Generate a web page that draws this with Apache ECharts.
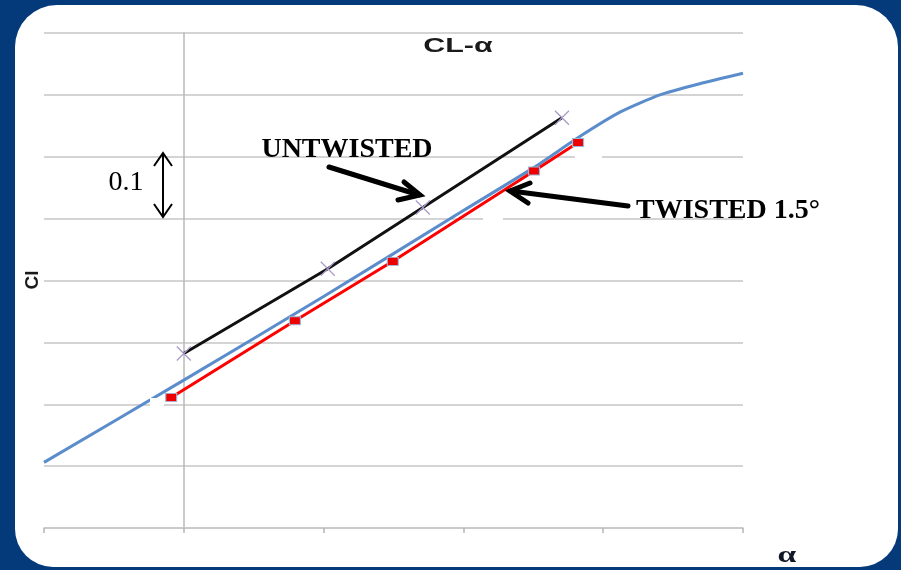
<!DOCTYPE html>
<html>
<head>
<meta charset="utf-8">
<script src="https://cdn.jsdelivr.net/npm/echarts@6/dist/echarts.min.js"></script>
<style>
html,body{margin:0;padding:0;background:#043a7a;}
#chart{width:901px;height:570px;}
</style>
</head>
<body>
<div id="chart"></div>
<script>
// ---- data ----
const xTicks = [-2, 0, 2, 4, 6, 8];
const yTicks = [0, 0.1, 0.2, 0.3, 0.4, 0.5, 0.6, 0.7, 0.8];
const alphaCurve = [-2, 0, 2, 4, 5, 5.67, 6.24, 6.81, 7.38, 8];
const clCurve = [0.106, 0.239, 0.374, 0.513, 0.582, 0.633, 0.672, 0.700, 0.718, 0.735];
const alphaUntwisted = [0, 2.06, 3.42, 5.41];
const clUntwisted = [0.282, 0.419, 0.518, 0.663];
const alphaTwisted = [-0.18, 1.59, 2.99, 5.01, 5.64];
const clTwisted = [0.211, 0.335, 0.431, 0.577, 0.623];
const titleText = 'CL-\u03b1';
const yName = 'Cl';
const xName = '\u03b1';
const labelUntwisted = 'UNTWISTED';
const labelTwisted = 'TWISTED 1.5\u00b0';
const scaleLabel = '0.1';

const zip = (a, b) => a.map((v, i) => [v, b[i]]);

const chart = echarts.init(document.getElementById('chart'), null, {renderer: 'canvas'});
const gridColor = '#c6c6c6';
const serif = '"Liberation Serif", "DejaVu Serif", serif';

chart.setOption({
  backgroundColor: '#043a7a',
  animation: false,
  grid: {left: 44, right: 158, top: 33, bottom: 42, containLabel: false},
  xAxis: {
    type: 'value', min: xTicks[0], max: xTicks[xTicks.length - 1], interval: 2,
    axisLine: {show: true, onZero: false, lineStyle: {color: gridColor, width: 1.5}},
    axisTick: {show: true, length: 5, lineStyle: {color: '#b5b5b5', width: 1.5}},
    axisLabel: {show: false},
    splitLine: {show: false}
  },
  yAxis: {
    type: 'value', min: yTicks[0], max: yTicks[yTicks.length - 1], interval: 0.1,
    axisLine: {show: true, onZero: true, lineStyle: {color: '#b8b8b8', width: 1.5}},
    axisTick: {show: false},
    axisLabel: {show: false},
    splitLine: {show: true, lineStyle: {color: gridColor, width: 1.5}}
  },
  series: [
    {
      name: 'curve', type: 'line', data: zip(alphaCurve, clCurve), smooth: 0.2,
      showSymbol: false, z: 3,
      lineStyle: {color: '#5b8ccc', width: 3}
    },
    {
      name: 'untwisted', type: 'line', data: zip(alphaUntwisted, clUntwisted),
      symbol: 'path://M0,0L10,10M10,0L0,10', symbolSize: 14, z: 4,
      lineStyle: {color: '#111111', width: 3},
      itemStyle: {color: 'rgba(0,0,0,0)', borderColor: '#a898c8', borderWidth: 1.2}
    },
    {
      name: 'twisted', type: 'line', data: zip(alphaTwisted, clTwisted),
      symbol: 'rect', symbolSize: [11, 8], z: 5,
      lineStyle: {color: '#ff0000', width: 3},
      itemStyle: {color: '#ee0000', borderColor: '#9bb8dc', borderWidth: 1}
    }
  ],
  graphic: [
    {type: 'rect', z: -100, silent: true,
      shape: {x: 15, y: 5, width: 883, height: 562, r: [42, 42, 38, 38]},
      style: {fill: '#ffffff'}},
    // small white patches that hide pieces of grid lines behind the annotations
    {type: 'rect', z: 100, shape: {x: 575, y: 152, width: 27, height: 10}, style: {fill: '#ffffff'}},
    {type: 'rect', z: 100, shape: {x: 483, y: 214, width: 20, height: 10}, style: {fill: '#ffffff'}},
    {type: 'rect', z: 100, shape: {x: 150, y: 398, width: 14, height: 12}, style: {fill: '#ffffff'}},
    // texts
    {type: 'text', z: 100, x: 458, y: 46, scaleX: 1.45,
      style: {text: titleText, x: 0, y: 0, align: 'center', verticalAlign: 'middle',
      font: 'bold 21px "Liberation Sans", Arial, sans-serif', fill: '#1a1a1a'}},
    {type: 'text', z: 100, x: 33, y: 280, rotation: Math.PI / 2,
      style: {text: yName, x: 0, y: 0, align: 'center', verticalAlign: 'middle',
      font: 'bold 19px "Liberation Sans", Arial, sans-serif', fill: '#1a1a1a'}},
    {type: 'text', z: 100, x: 787, y: 556, scaleX: 1.4,
      style: {text: xName, x: 0, y: 0, align: 'center', verticalAlign: 'middle',
      font: 'bold 24px ' + serif, fill: '#101828'}},
    {type: 'text', z: 100, style: {text: labelUntwisted, x: 347, y: 150, align: 'center', verticalAlign: 'middle',
      font: 'bold 28px ' + serif, fill: '#000000'}},
    {type: 'text', z: 100, style: {text: labelTwisted, x: 728, y: 211, align: 'center', verticalAlign: 'middle',
      font: 'bold 28px ' + serif, fill: '#000000'}},
    {type: 'text', z: 100, style: {text: scaleLabel, x: 126, y: 183, align: 'center', verticalAlign: 'middle',
      font: '28px ' + serif, fill: '#000000'}},
    // double-headed scale arrow
    {type: 'polyline', z: 100, shape: {points: [[163, 153], [163, 217]]},
      style: {stroke: '#000', lineWidth: 2, fill: null}},
    {type: 'polyline', z: 100, shape: {points: [[154, 166], [163, 153], [172, 166]]},
      style: {stroke: '#000', lineWidth: 2, fill: null}},
    {type: 'polyline', z: 100, shape: {points: [[154, 204], [163, 217], [172, 204]]},
      style: {stroke: '#000', lineWidth: 2, fill: null}},
    // UNTWISTED arrow
    {type: 'polyline', z: 100, shape: {points: [[329, 167], [419, 195]]},
      style: {stroke: '#000', lineWidth: 5, lineCap: 'round', fill: null}},
    {type: 'polyline', z: 100, shape: {points: [[404, 182], [420, 195], [398, 200]]},
      style: {stroke: '#000', lineWidth: 5, lineCap: 'round', lineJoin: 'miter', fill: null}},
    // TWISTED arrow
    {type: 'polyline', z: 100, shape: {points: [[628, 206], [511, 191]]},
      style: {stroke: '#000', lineWidth: 5, lineCap: 'round', fill: null}},
    {type: 'polyline', z: 100, shape: {points: [[530, 183], [510, 191], [528, 203]]},
      style: {stroke: '#000', lineWidth: 5, lineCap: 'round', lineJoin: 'miter', fill: null}}
  ]
});
</script>
</body>
</html>
